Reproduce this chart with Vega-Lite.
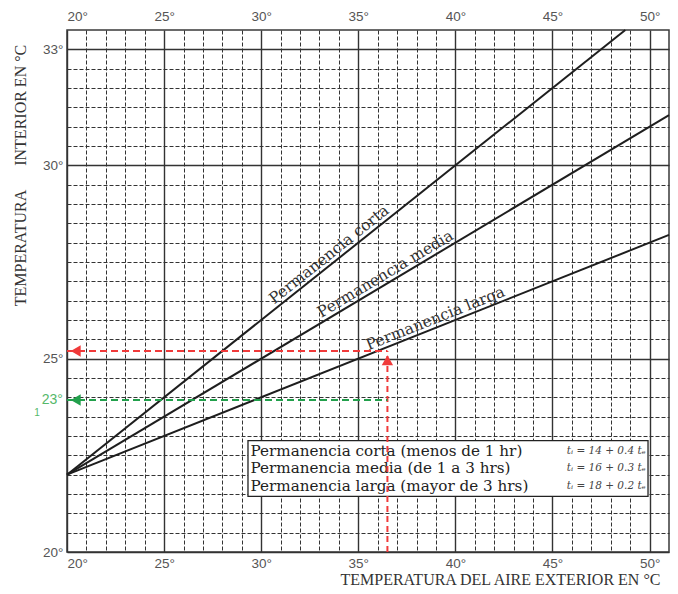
{
  "$schema": "https://vega.github.io/schema/vega-lite/v6.json",
  "width": 602,
  "height": 522,
  "autosize": {"type": "none"},
  "padding": {"left": 67, "top": 30, "right": 9, "bottom": 42},
  "background": "white",
  "config": {
    "view": {"stroke": "#3a3a3a", "strokeWidth": 1.5},
    "axis": {
      "labelFont": "Liberation Sans", "labelFontSize": 13.5, "labelColor": "#555",
      "titleFont": "Liberation Serif", "titleFontSize": 16, "titleColor": "#333", "titleFontWeight": "normal",
      "ticks": false, "domain": false
    }
  },
  "resolve": {"axis": {"x": "independent", "y": "independent"}},
  "datasets": {
    "lineas": [
      {"serie": "corta", "te": 20, "ti": 22}, {"serie": "corta", "te": 48.75, "ti": 33.5},
      {"serie": "media", "te": 20, "ti": 22}, {"serie": "media", "te": 51, "ti": 31.3},
      {"serie": "larga", "te": 20, "ti": 22}, {"serie": "larga", "te": 51, "ti": 28.2}
    ],
    "etiquetas": [
      {"serie": "corta", "texto": "Permanencia corta", "te": 30.8, "ti": 26.32},
      {"serie": "media", "texto": "Permanencia media", "te": 33.2, "ti": 25.96},
      {"serie": "larga", "texto": "Permanencia larga", "te": 35.6, "ti": 25.12}
    ],
    "caja": [{"te": 29.32, "te2": 49.92, "ti": 21.44, "ti2": 22.88}],
    "leyenda": [
      {"texto": "Permanencia corta (menos de 1 hr)", "te": 29.45, "ti": 22.62},
      {"texto": "Permanencia media (de 1 a 3 hrs)", "te": 29.45, "ti": 22.16},
      {"texto": "Permanencia larga (mayor de 3 hrs)", "te": 29.45, "ti": 21.7}
    ],
    "formulas": [
      {"texto": "tᵢ = 14 + 0.4 tₑ", "te": 49.8, "ti": 22.62},
      {"texto": "tᵢ = 16 + 0.3 tₑ", "te": 49.8, "ti": 22.16},
      {"texto": "tᵢ = 18 + 0.2 tₑ", "te": 49.8, "ti": 21.7}
    ],
    "guias_v": [{"tipo": "rojo", "te": 36.5, "ti": 20, "ti2": 25.2}],
    "guias_h": [
      {"tipo": "rojo", "te": 20, "te2": 36.5, "ti": 25.2},
      {"tipo": "verde", "te": 20, "te2": 36.5, "ti": 23.93}
    ],
    "flechas": [
      {"tipo": "rojo", "forma": "arriba", "te": 36.5, "ti": 24.96},
      {"tipo": "rojo", "forma": "izquierda", "te": 20.45, "ti": 25.2},
      {"tipo": "verde", "forma": "izquierda", "te": 20.45, "ti": 23.93}
    ],
    "verde_txt": [
      {"texto": "23°", "te": 19.79, "ti": 23.93},
      {"texto": "1", "te": 18.6, "ti": 23.6}
    ]
  },
  "layer": [
    {
      "data": {"name": "lineas"},
      "mark": {"type": "line", "color": "#1e1e1e", "strokeWidth": 2},
      "encoding": {
        "x": {
          "field": "te", "type": "quantitative",
          "scale": {"domain": [20, 51], "nice": false, "zero": false},
          "axis": {
            "orient": "bottom",
            "values": [20,21,22,23,24,25,26,27,28,29,30,31,32,33,34,35,36,37,38,39,40,41,42,43,44,45,46,47,48,49,50],
            "labelExpr": "datum.value % 5 === 0 ? datum.value + '°' : ''",
            "labelPadding": 4,
            "grid": true,
            "gridColor": "#333",
            "gridDash": {"condition": {"test": "datum.value % 5 === 0", "value": []}, "value": [4, 2]},
            "gridWidth": {"condition": {"test": "datum.value % 5 === 0", "value": 1.4}, "value": 1},
            "title": "TEMPERATURA DEL AIRE EXTERIOR EN °C",
            "titleX": 593, "titleY": 27, "titleAlign": "right", "titleBaseline": "middle"
          }
        },
        "y": {
          "field": "ti", "type": "quantitative",
          "scale": {"domain": [20, 33.5], "nice": false, "zero": false},
          "axis": {
            "orient": "left",
            "values": [20,20.5,21,21.5,22,22.5,23,23.5,24,24.5,25,25.5,26,26.5,27,27.5,28,28.5,29,29.5,30,30.5,31,31.5,32,32.5,33],
            "labelExpr": "(datum.value === 20 || datum.value === 25 || datum.value === 30 || datum.value === 33) ? datum.value + '°' : ''",
            "labelPadding": 4,
            "grid": true,
            "gridColor": "#333",
            "gridDash": {"condition": {"test": "datum.value === 20 || datum.value === 25 || datum.value === 30 || datum.value === 33", "value": []}, "value": [4, 2]},
            "gridWidth": {"condition": {"test": "datum.value === 20 || datum.value === 25 || datum.value === 30 || datum.value === 33", "value": 1.4}, "value": 1},
            "title": "TEMPERATURA\u00a0\u00a0\u00a0\u00a0\u00a0\u00a0INTERIOR EN °C",
            "titleX": -47, "titleY": 145, "titleAlign": "center", "titleBaseline": "middle"
          }
        },
        "detail": {"field": "serie"}
      }
    },
    {
      "data": {"name": "etiquetas"},
      "transform": [{"filter": "datum.serie === 'corta'"}],
      "mark": {"type": "text", "align": "left", "baseline": "bottom", "angle": -38.6, "dy": -1, "font": "DejaVu Serif", "fontSize": 15.5, "color": "#333"},
      "encoding": {
        "x": {"field": "te", "type": "quantitative", "scale": {"domain": [20, 51], "nice": false, "zero": false}, "axis": null},
        "y": {"field": "ti", "type": "quantitative", "scale": {"domain": [20, 33.5], "nice": false, "zero": false}, "axis": null},
        "text": {"field": "texto"}
      }
    },
    {
      "data": {"name": "etiquetas"},
      "transform": [{"filter": "datum.serie === 'media'"}],
      "mark": {"type": "text", "align": "left", "baseline": "bottom", "angle": -30.9, "dy": -1, "font": "DejaVu Serif", "fontSize": 15.5, "color": "#333"},
      "encoding": {
        "x": {"field": "te", "type": "quantitative", "scale": {"domain": [20, 51], "nice": false, "zero": false}, "axis": null},
        "y": {"field": "ti", "type": "quantitative", "scale": {"domain": [20, 33.5], "nice": false, "zero": false}, "axis": null},
        "text": {"field": "texto"}
      }
    },
    {
      "data": {"name": "etiquetas"},
      "transform": [{"filter": "datum.serie === 'larga'"}],
      "mark": {"type": "text", "align": "left", "baseline": "bottom", "angle": -21.7, "dy": -1, "font": "DejaVu Serif", "fontSize": 15.5, "color": "#333"},
      "encoding": {
        "x": {"field": "te", "type": "quantitative", "scale": {"domain": [20, 51], "nice": false, "zero": false}, "axis": null},
        "y": {"field": "ti", "type": "quantitative", "scale": {"domain": [20, 33.5], "nice": false, "zero": false}, "axis": null},
        "text": {"field": "texto"}
      }
    },
    {
      "data": {"name": "caja"},
      "mark": {"type": "rect", "fill": "white", "stroke": "#222", "strokeWidth": 1.3},
      "encoding": {
        "x": {"field": "te", "type": "quantitative", "scale": {"domain": [20, 51], "nice": false, "zero": false}, "axis": null},
        "x2": {"field": "te2"},
        "y": {"field": "ti", "type": "quantitative", "scale": {"domain": [20, 33.5], "nice": false, "zero": false}, "axis": null},
        "y2": {"field": "ti2"}
      }
    },
    {
      "data": {"name": "leyenda"},
      "mark": {"type": "text", "align": "left", "baseline": "middle", "font": "DejaVu Serif", "fontSize": 15.2, "color": "#222"},
      "encoding": {
        "x": {"field": "te", "type": "quantitative", "scale": {"domain": [20, 51], "nice": false, "zero": false}, "axis": null},
        "y": {"field": "ti", "type": "quantitative", "scale": {"domain": [20, 33.5], "nice": false, "zero": false}, "axis": null},
        "text": {"field": "texto"}
      }
    },
    {
      "data": {"name": "formulas"},
      "mark": {"type": "text", "align": "right", "baseline": "middle", "font": "DejaVu Serif", "fontStyle": "italic", "fontSize": 10.5, "color": "#444"},
      "encoding": {
        "x": {"field": "te", "type": "quantitative", "scale": {"domain": [20, 51], "nice": false, "zero": false}, "axis": null},
        "y": {"field": "ti", "type": "quantitative", "scale": {"domain": [20, 33.5], "nice": false, "zero": false}, "axis": null},
        "text": {"field": "texto"}
      }
    },
    {
      "data": {"name": "guias_v"},
      "mark": {"type": "rule", "strokeDash": [6, 4], "strokeWidth": 2, "color": "#f03a3a"},
      "encoding": {
        "x": {
          "field": "te", "type": "quantitative",
          "scale": {"domain": [20, 51], "nice": false, "zero": false},
          "axis": {
            "orient": "top", "values": [20, 25, 30, 35, 40, 45, 50],
            "labelExpr": "datum.value + '°'", "labelPadding": 7, "grid": false, "title": null
          }
        },
        "y": {"field": "ti", "type": "quantitative", "scale": {"domain": [20, 33.5], "nice": false, "zero": false}, "axis": null},
        "y2": {"field": "ti2"}
      }
    },
    {
      "data": {"name": "guias_h"},
      "mark": {"type": "rule", "strokeDash": [7, 4], "strokeWidth": 2},
      "encoding": {
        "x": {"field": "te", "type": "quantitative", "scale": {"domain": [20, 51], "nice": false, "zero": false}, "axis": null},
        "x2": {"field": "te2"},
        "y": {"field": "ti", "type": "quantitative", "scale": {"domain": [20, 33.5], "nice": false, "zero": false}, "axis": null},
        "color": {"field": "tipo", "type": "nominal", "scale": {"domain": ["rojo", "verde"], "range": ["#f03a3a", "#22a04c"]}, "legend": null}
      }
    },
    {
      "data": {"name": "flechas"},
      "mark": {"type": "point", "filled": true, "size": 130, "opacity": 1},
      "encoding": {
        "x": {"field": "te", "type": "quantitative", "scale": {"domain": [20, 51], "nice": false, "zero": false}, "axis": null},
        "y": {"field": "ti", "type": "quantitative", "scale": {"domain": [20, 33.5], "nice": false, "zero": false}, "axis": null},
        "shape": {"field": "forma", "type": "nominal", "scale": {"domain": ["arriba", "izquierda"], "range": ["triangle-up", "triangle-left"]}, "legend": null},
        "color": {"field": "tipo", "type": "nominal", "scale": {"domain": ["rojo", "verde"], "range": ["#f03a3a", "#22a04c"]}, "legend": null}
      }
    },
    {
      "data": {"name": "verde_txt"},
      "mark": {"type": "text", "align": "right", "baseline": "middle", "font": "Liberation Sans", "fontSize": 14, "color": "#55b86a"},
      "encoding": {
        "x": {"field": "te", "type": "quantitative", "scale": {"domain": [20, 51], "nice": false, "zero": false}, "axis": null},
        "y": {"field": "ti", "type": "quantitative", "scale": {"domain": [20, 33.5], "nice": false, "zero": false}, "axis": null},
        "text": {"field": "texto"},
        "size": {"condition": {"test": "datum.texto === '1'", "value": 10}, "value": 14}
      }
    }
  ]
}
